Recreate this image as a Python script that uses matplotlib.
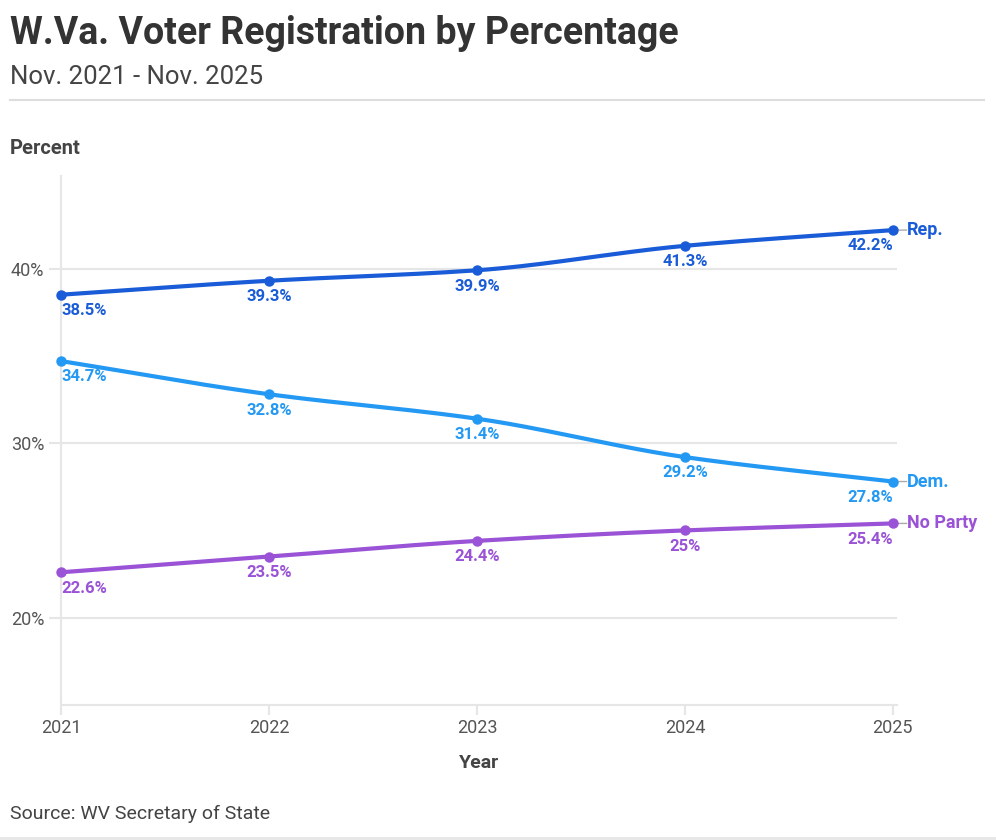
import matplotlib
matplotlib.use("Agg")
import matplotlib.pyplot as plt
import numpy as np

years = [2021, 2022, 2023, 2024, 2025]
series_names = ["Rep.", "Dem.", "No Party"]
rep = [38.5, 39.3, 39.9, 41.3, 42.2]
dem = [34.7, 32.8, 31.4, 29.2, 27.8]
noparty = [22.6, 23.5, 24.4, 25.0, 25.4]
colors = ["#1a5cd8", "#2499f4", "#9a52d6"]
y_ticks = [20, 30, 40]

FONT = "Roboto"
plt.rcParams["font.family"] = [FONT, "DejaVu Sans"]


def monotone(x, y, n=40):
    x = np.asarray(x, float)
    y = np.asarray(y, float)
    h = np.diff(x)
    d = np.diff(y) / h
    m = np.zeros_like(y)
    m[0], m[-1] = d[0], d[-1]
    for i in range(1, len(y) - 1):
        if d[i - 1] * d[i] <= 0:
            m[i] = 0
        else:
            w1 = 2 * h[i] + h[i - 1]
            w2 = h[i] + 2 * h[i - 1]
            m[i] = (w1 + w2) / (w1 / d[i - 1] + w2 / d[i])
    xs, ys = [], []
    for i in range(len(x) - 1):
        t = np.linspace(0, 1, n)
        h00 = 2 * t**3 - 3 * t**2 + 1
        h10 = t**3 - 2 * t**2 + t
        h01 = -2 * t**3 + 3 * t**2
        h11 = t**3 - t**2
        xs.append(x[i] + t * h[i])
        ys.append(h00 * y[i] + h10 * h[i] * m[i] + h01 * y[i + 1] + h11 * h[i] * m[i + 1])
    return np.concatenate(xs), np.concatenate(ys)


W, H = 996, 840
fig = plt.figure(figsize=(W / 100, H / 100), dpi=100)
ax = fig.add_axes([61 / W, 1 - 705 / H, (897 - 61) / W, (705 - 176) / H])
ax.set_xlim(2021, 2025.02)
ax.set_ylim(15, 45.3)

for s in ["top", "right"]:
    ax.spines[s].set_visible(False)
for s in ["left", "bottom"]:
    ax.spines[s].set_color("#e6e6e6")
    ax.spines[s].set_linewidth(1.5)

ax.set_yticks(y_ticks)
ax.set_yticklabels([f"{v}%" for v in y_ticks])
ax.set_xticks(years)
ax.set_xticklabels([str(y) for y in years])
ax.tick_params(axis="y", length=9, color="#e6e6e6", width=1.5, labelsize=13, labelcolor="#555555", pad=3)
ax.tick_params(axis="x", length=7, color="#e6e6e6", width=1.5, labelsize=13, labelcolor="#555555", pad=3)
ax.grid(axis="y", color="#e6e6e6", linewidth=1.5)
ax.set_axisbelow(True)

all_series = [rep, dem, noparty]
for name, vals, c in zip(series_names, all_series, colors):
    xs, ys = monotone(years, vals)
    ax.plot(xs, ys, color=c, lw=3, solid_capstyle="round", zorder=3, clip_on=False)
    ax.plot(years, vals, "o", color=c, ms=6.5, zorder=4, clip_on=False)
    for i, (x, v) in enumerate(zip(years, vals)):
        ha = "left" if i == 0 else ("right" if i == len(years) - 1 else "center")
        lbl = f"{v:g}%"
        ax.annotate(lbl, (x, v), xytext=(0, -6), textcoords="offset points",
                    ha=ha, va="top", color=c, fontsize=12, fontweight="semibold", zorder=5)
    # end label with connector
    ax.annotate("", xy=(years[-1], vals[-1]), xytext=(10, 0), textcoords="offset points",
                arrowprops=dict(arrowstyle="-", color="#aaaaaa", lw=1, shrinkA=0, shrinkB=0),
                annotation_clip=False)
    ax.annotate(name, (years[-1], vals[-1]), xytext=(10, 0), textcoords="offset points",
                ha="left", va="center", color=c, fontsize=13, fontweight="bold",
                annotation_clip=False)

ax.set_xlabel("Year", fontsize=14, fontweight="bold", color="#444444", labelpad=12)

fig.text(10 / W, 1 - 34 / H, "W.Va. Voter Registration by Percentage", fontsize=27,
         fontweight="bold", color="#333333", va="center", ha="left")
fig.text(10 / W, 1 - 77 / H, "Nov. 2021 - Nov. 2025", fontsize=18.5, color="#444444",
         va="center", ha="left")
fig.add_artist(plt.Line2D([10 / W, 984 / W], [1 - 100 / H, 1 - 100 / H], color="#dddddd", lw=1.5))
fig.text(10 / W, 1 - 148 / H, "Percent", fontsize=14.5, fontweight="bold", color="#444444",
         va="center", ha="left")
fig.text(10 / W, 1 - 814 / H, "Source: WV Secretary of State", fontsize=14, color="#444444",
         va="center", ha="left")
fig.add_artist(plt.Line2D([0, 1], [1 - 838 / H, 1 - 838 / H], color="#e6e6e6", lw=2))

fig.savefig("out.png", dpi=100, facecolor="white")
